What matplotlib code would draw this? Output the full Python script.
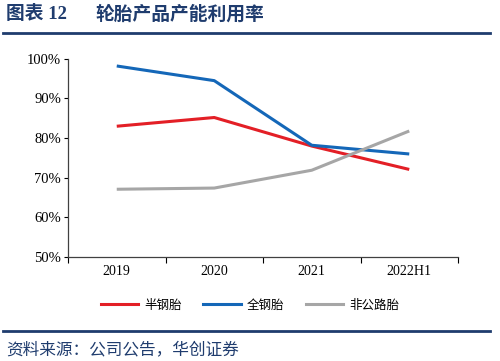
import matplotlib
matplotlib.use('Agg')
import matplotlib.pyplot as plt
from matplotlib.lines import Line2D

plt.rcParams['font.family'] = ['Liberation Serif', 'Noto Sans CJK SC', 'DejaVu Sans']

# data
categories = ['2019', '2020', '2021', '2022H1']
semi_steel = [83.0, 85.2, 78.0, 72.1]
all_steel = [98.2, 94.5, 78.2, 76.0]
off_road = [67.1, 67.4, 71.9, 81.8]
series_names = ['半钢胎', '全钢胎', '非公路胎']
series_colors = ['#E31F26', '#1467B8', '#A6A6A6']

NAVY = '#1F3C6E'

fig = plt.figure(figsize=(5.0, 3.61), dpi=100)
ax = fig.add_axes([0.136, 0.288, 0.780, 0.549])

x = list(range(len(categories)))
for vals, name, col in zip([semi_steel, all_steel, off_road], series_names, series_colors):
    ax.plot(x, vals, color=col, lw=2.2, label=name, solid_capstyle='butt')

ax.set_xlim(-0.5, len(categories) - 0.5)
ax.set_ylim(50, 100)
ax.set_yticks(range(50, 101, 10))
ax.set_yticklabels([f'{v}%' for v in range(50, 101, 10)], fontsize=10.5)
ax.tick_params(axis='y', direction='out', length=3, width=0.8, pad=2)

# boundary ticks on x, labels at category centres
ax.set_xticks([i - 0.5 for i in range(len(categories) + 1)])
ax.set_xticklabels([])
ax.tick_params(axis='x', which='major', direction='out', length=4, width=0.8)
ax.set_xticks(x, minor=True)
ax.set_xticklabels(categories, minor=True, fontsize=10)
ax.tick_params(axis='x', which='minor', length=0, pad=6)

for s in ['top', 'right']:
    ax.spines[s].set_visible(False)
for s in ['left', 'bottom']:
    ax.spines[s].set_color('#404040')
    ax.spines[s].set_linewidth(0.9)

handles = [Line2D([0], [0], color=c, lw=2.2) for c in series_colors]
leg = fig.legend(handles, series_names, loc='center', bbox_to_anchor=(0.5, 0.155),
                 ncol=3, frameon=False, handlelength=3.0,
                 columnspacing=1.7, handletextpad=0.5,
                 prop={'family': ['Noto Sans CJK SC'], 'size': 9})

# title and separator lines
fig.text(0.012, 0.962, '图表 12', fontsize=13.5, fontweight='bold',
         color=NAVY, va='center', ha='left', family=['Liberation Serif', 'Noto Sans CJK SC'])
fig.text(0.19, 0.962, '轮胎产品产能利用率', fontsize=13.5, fontweight='bold',
         color=NAVY, va='center', ha='left', family=['Noto Sans CJK SC'])
fig.add_artist(Line2D([0.006, 0.98], [0.909, 0.909], color=NAVY, lw=2.0))
fig.add_artist(Line2D([0.006, 0.98], [0.083, 0.083], color=NAVY, lw=2.0))
fig.text(0.012, 0.03, '资料来源：公司公告，华创证券', fontsize=12, style='italic',
         color=NAVY, va='center', ha='left', family=['Noto Sans CJK SC'])

fig.savefig('out.png', dpi=100)
